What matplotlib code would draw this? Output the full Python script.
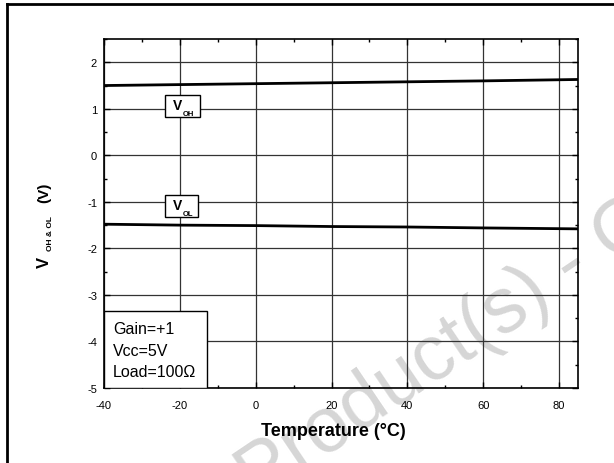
import numpy as np
import matplotlib
matplotlib.use("Agg")
import matplotlib.pyplot as plt
from matplotlib.lines import Line2D
from matplotlib.patches import Rectangle
from matplotlib.ticker import MultipleLocator

plt.rcParams['font.family'] = ['Liberation Sans', 'DejaVu Sans']
plt.rcParams['axes.unicode_minus'] = False

# data
temp = [-40, -20, 0, 20, 40, 60, 85]
v_oh = [1.50, 1.52, 1.54, 1.56, 1.58, 1.60, 1.63]
v_ol = [-1.48, -1.50, -1.51, -1.53, -1.54, -1.56, -1.58]

xticks = [-40, -20, 0, 20, 40, 60, 80]
yticks = [-5, -4, -3, -2, -1, 0, 1, 2]
conditions = ["Gain=+1", "Vcc=5V", "Load=100\u03a9"]

W, H = 614, 464
fig = plt.figure(figsize=(W / 100, H / 100), dpi=100)
ax = fig.add_axes([104 / W, 1 - 389 / H, 474 / W, 349 / H])
ax.patch.set_visible(False)  # let the watermark show through behind the grid


def px(x, y):
    # pixel position (from top-left) -> figure fraction
    return x / W, 1 - y / H


# outer page frame (top and left edges visible)
fig.add_artist(Line2D([7 / W, 7 / W], [0, 1 - 5 / H], transform=fig.transFigure, color='black', lw=2))
fig.add_artist(Line2D([7 / W, 1], [1 - 5 / H, 1 - 5 / H], transform=fig.transFigure, color='black', lw=2))

ax.plot(temp, v_oh, color='black', lw=2, zorder=4)
ax.plot(temp, v_ol, color='black', lw=2, zorder=4)

ax.set_xlim(-40, 85)
ax.set_ylim(-5, 2.5)
ax.set_xticks(xticks)
ax.set_yticks(yticks)
ax.xaxis.set_minor_locator(MultipleLocator(10))
ax.yaxis.set_minor_locator(MultipleLocator(0.5))
ax.tick_params(which='both', direction='in', top=True, right=True, labelsize=8)
ax.tick_params(which='major', length=4, width=1)
ax.tick_params(which='minor', length=2.5, width=1)
ax.tick_params(axis='x', pad=9)
ax.tick_params(axis='y', pad=5)
ax.grid(True, which='major', color='#333333', lw=0.9)
for s in ax.spines.values():
    s.set_linewidth(1.2)

ax.set_xlabel("Temperature (\u00b0C)", fontsize=13, fontweight='bold')
ax.xaxis.set_label_coords((333 - 104) / 474, -(423 - 389) / 349)

# y label built from pieces: V with small subscript, then (V)
fig.text(*px(44, 262), "V", fontsize=12, fontweight='bold', rotation=90, ha='center', va='center')
fig.text(*px(50, 234), "OH & OL", fontsize=6, fontweight='bold', rotation=90, ha='center', va='center')
fig.text(*px(44, 193), "(V)", fontsize=11, fontweight='bold', rotation=90, ha='center', va='center')

# curve labels: boxed V with small subscript
for (x0, y0, x1, y1), sub in [((165, 96, 200, 118), "OH"), ((165, 196, 198, 218), "OL")]:
    fig.add_artist(Rectangle(px(x0, y1), (x1 - x0) / W, (y1 - y0) / H, transform=fig.transFigure,
                             facecolor='white', edgecolor='black', lw=1, zorder=5))
    fig.text(*px(x0 + 8, (y0 + y1) / 2 - 1), "V", fontsize=10, fontweight='bold',
             ha='left', va='center', zorder=6)
    fig.text(*px(x0 + 18, y1 - 2), sub, fontsize=5.5, fontweight='bold',
             ha='left', va='baseline', zorder=6)

# test conditions box
ax.add_patch(Rectangle((0, 0), 103 / 474, 77 / 349, transform=ax.transAxes,
                       facecolor='white', edgecolor='black', lw=1, zorder=5))
for i, t in enumerate(conditions):
    ax.text(0.019, (389 - 330 - i * 21.5) / 349, t, transform=ax.transAxes, fontsize=11.5,
            ha='left', va='center', zorder=6)

# watermark, behind the axes content
fig.text(*px(257, 503), "Product(s) - Obsolete", fontsize=56, color='#d6d6d6',
         rotation=34, rotation_mode='anchor', ha='left', va='baseline', zorder=-1)

fig.savefig("out.png", dpi=100)
